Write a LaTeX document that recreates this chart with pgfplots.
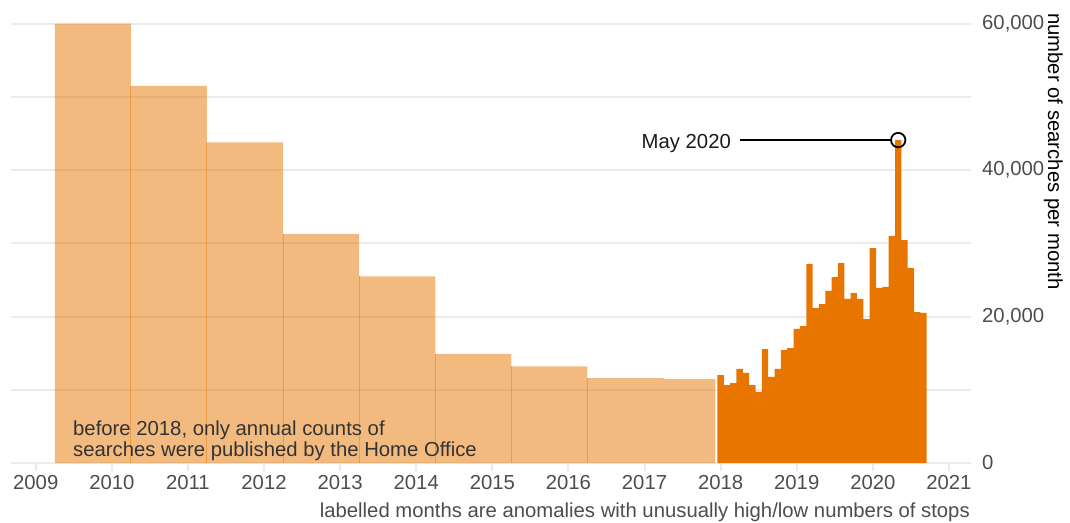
\documentclass[border=0pt]{standalone}
\usepackage{fontspec}
\setmainfont{Liberation Sans}
\usepackage{pgfplots}
\usepackage{pgfplotstable}
\pgfplotsset{compat=1.18}
\definecolor{orng}{HTML}{E87500}
\definecolor{gridc}{HTML}{EBEBEB}
\definecolor{tickc}{HTML}{4D4D4D}
\definecolor{txtc}{HTML}{333333}
\newcommand\bigf{\fontsize{20.3}{24}\selectfont}

\pgfplotstableread{
x y
2009.25 60000
2010.25 51500
2011.25 43800
2012.25 31300
2013.25 25500
2014.25 14900
2015.25 13200
2016.25 11600
2017.25 11500
2017.93 11500
}\annual

\pgfplotstableread{
x y
2010.25 51500
2011.25 43800
2012.25 31300
2013.25 25500
2014.25 14900
2015.25 13200
2016.25 11600
}\seams

\pgfplotstableread{
x y
2017.9583 12000
2018.0417 10650
2018.1250 10900
2018.2083 12850
2018.2917 12300
2018.3750 10650
2018.4583 9700
2018.5417 15550
2018.6250 11750
2018.7083 12850
2018.7917 15450
2018.8750 15700
2018.9583 18300
2019.0417 18700
2019.1250 27200
2019.2083 21150
2019.2917 21700
2019.3750 23500
2019.4583 25400
2019.5417 27300
2019.6250 22400
2019.7083 23200
2019.7917 22400
2019.8750 19650
2019.9583 29350
2020.0417 23900
2020.1250 24050
2020.2083 31000
2020.2917 44100
2020.3750 30450
2020.4583 26600
2020.5417 20600
2020.6250 20500
2020.7083 20500
}\monthly

\begin{document}
\begin{tikzpicture}
\begin{axis}[
  at={(0,0)}, anchor=south west,
  scale only axis, width=960pt, height=454pt,
  xmin=2008.675, xmax=2021.29, ymin=0, ymax=62000,
  axis x line*=bottom, axis y line*=right,
  axis line style={draw=none},
  xtick={2009,2010,2011,2012,2013,2014,2015,2016,2017,2018,2019,2020,2021},
  xticklabels={2009,2010,2011,2012,2013,2014,2015,2016,2017,2018,2019,2020,2021},
  ytick={0,20000,40000,60000},
  yticklabels={0,{20,000},{40,000},{60,000}},
  minor ytick={10000,30000,50000},
  ymajorgrids, yminorgrids,
  major grid style={draw=gridc, line width=2pt},
  minor grid style={draw=gridc, line width=2pt},
  tick align=outside,
  major tick length=8pt,
  minor tick length=0pt,
  x tick style={draw=gridc, line width=2pt},
  y tick style={draw=none},
  ticklabel style={font=\bigf, text=tickc},
  xticklabel style={anchor=north, yshift=-1pt},
  yticklabel style={anchor=west, inner sep=0pt, xshift=3pt},
  clip=false,
]
\addplot[ybar interval, fill=orng, fill opacity=0.5, draw=none] table {\annual};
\addplot[ycomb, draw=orng, draw opacity=0.45, line width=1pt, mark=none] table {\seams};
\addplot[ybar interval, fill=orng, draw=none] table {\monthly};
\addplot[only marks, mark=o, mark size=7.2pt, mark options={line width=1.8pt, draw=black}] coordinates {(2020.3333,44100)};
\draw[black, line width=1.8pt] (axis cs:2018.255,44100) -- (axis cs:2020.226,44100);
\node[anchor=base east, font=\bigf, text=black!90, inner sep=0pt] at ([yshift=-8pt]axis cs:2018.137,44100) {May 2020};
\end{axis}
\node[anchor=base west, font=\bigf, text=txtc, inner sep=0pt] at (62pt,28pt) {before 2018, only annual counts of};
\node[anchor=base west, font=\bigf, text=txtc, inner sep=0pt] at (62pt,7pt) {searches were published by the Home Office};
\node[anchor=base east, font=\bigf, text=tickc, inner sep=0pt] at (959pt,-54pt) {labelled months are anomalies with unusually high/low numbers of stops};
\node[rotate=-90, anchor=base west, font=\bigf, text=black, inner sep=0pt] at (1037pt,450pt) {number of searches per month};
\pgfresetboundingbox
\path[use as bounding box] (-11pt,-59pt) rectangle (1059pt,463pt);
\end{tikzpicture}
\end{document}
